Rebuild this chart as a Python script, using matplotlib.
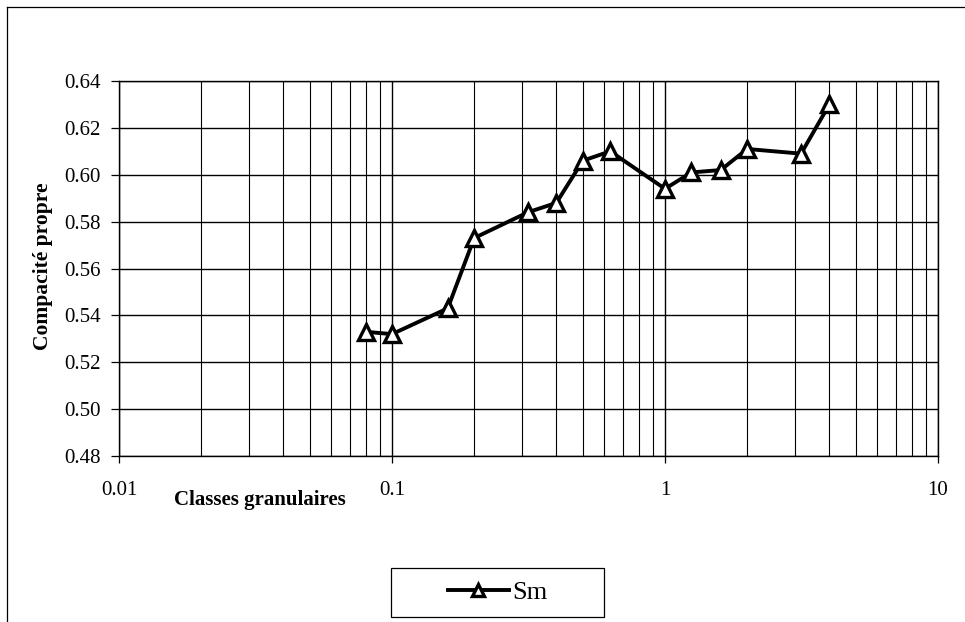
import numpy as np
import matplotlib
matplotlib.use("Agg")
import matplotlib.pyplot as plt
from matplotlib.ticker import LogLocator, FixedLocator, NullFormatter
from matplotlib.lines import Line2D
from matplotlib.patches import Rectangle

plt.rcParams['font.family'] = ['Liberation Serif', 'DejaVu Serif']

# classes granulaires (mm) et compacite propre
classes = [0.08, 0.1, 0.16, 0.2, 0.315, 0.4, 0.5, 0.63, 1.0, 1.25, 1.6, 2.0, 3.15, 4.0]
compacite = [0.533, 0.532, 0.543, 0.573, 0.584, 0.588, 0.606, 0.610, 0.594, 0.601, 0.602, 0.611, 0.609, 0.630]
yticks = [0.48, 0.50, 0.52, 0.54, 0.56, 0.58, 0.60, 0.62, 0.64]
xticks = [0.01, 0.1, 1, 10]
xticklabels = ['0.01', '0.1', '1', '10']

W, H = 965, 622
fig = plt.figure(figsize=(W/100, H/100), dpi=100)

# cadre exterieur (gauche + haut)
fig.add_artist(Line2D([7/W, 7/W], [0, 1-7/H], color='black', lw=0.9))
fig.add_artist(Line2D([7/W, 1], [1-7/H, 1-7/H], color='black', lw=0.9))

ax = fig.add_axes([119/W, 1-456/H, (938-119)/W, (456-81)/H])
ax.set_xscale('log')
ax.set_xlim(0.01, 10)
ax.set_ylim(0.48, 0.64)

ax.xaxis.set_major_locator(FixedLocator(xticks))
ax.set_xticklabels(xticklabels)
ax.xaxis.set_minor_locator(LogLocator(base=10, subs=np.arange(2, 10)))
ax.xaxis.set_minor_formatter(NullFormatter())
ax.set_yticks(yticks)
ax.set_yticklabels(['%.2f' % v for v in yticks])

ax.grid(True, which='major', color='black', lw=1.0)
ax.grid(True, which='minor', axis='x', color='black', lw=0.8)
ax.set_axisbelow(True)

ax.tick_params(axis='x', which='major', length=5, width=0.9, pad=13, labelsize=15, direction='out')
ax.tick_params(axis='x', which='minor', length=0)
ax.tick_params(axis='y', length=6, width=0.9, pad=7, labelsize=15, direction='out')
for s in ax.spines.values():
    s.set_linewidth(1.0)

ax.plot(classes, compacite, color='black', lw=2.8, marker='^', ms=11,
        mfc='white', mec='black', mew=2.4, label='Sm', zorder=3)

fig.text(260/W, 1-500/H, 'Classes granulaires', fontsize=15, fontweight='bold',
         ha='center', va='center')
fig.text(43/W, 1-266/H, 'Compacité propre', fontsize=15.5, fontweight='bold',
         rotation=90, ha='center', va='center')

# legende : cadre + contenu
fig.add_artist(Rectangle((391/W, 1-617/H), 213/W, 49/H, transform=fig.transFigure,
                         fill=False, edgecolor='black', lw=0.9))
fig.legend(loc='center', bbox_to_anchor=(498/W, 1-592/H), fontsize=19,
           frameon=False, handlelength=2.3, handletextpad=0.15, markerscale=0.75)

fig.savefig('out.png', dpi=100)
